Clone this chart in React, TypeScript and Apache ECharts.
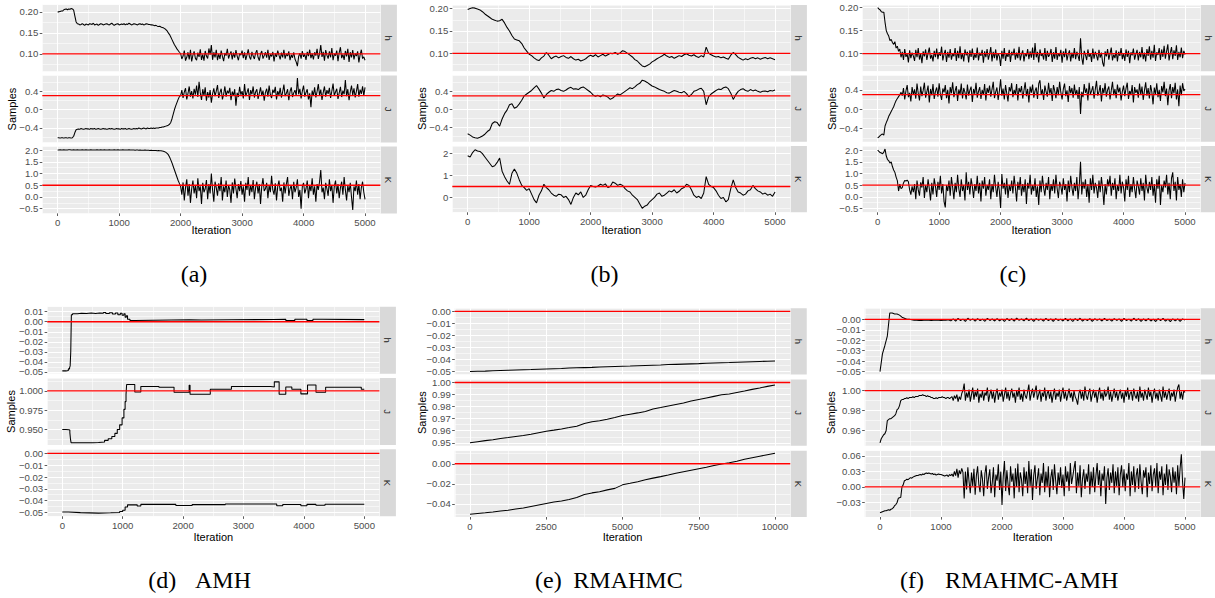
import React, { useEffect, useRef } from "react";
import * as echarts from "echarts";

// ---------------- data ----------------
const RUN_5K = 5000;
const RUN_10K = 10000;

const X_TICKS_5K = [0, 1000, 2000, 3000, 4000, 5000];
const X_TICKS_10K = [0, 2500, 5000, 7500, 10000];

const TICKS_ABC_H = [0.1, 0.15, 0.2];
const TICKS_ABC_J = [-0.4, 0.0, 0.4];
const TICKS_AC_K = [-0.5, 0.0, 0.5, 1.0, 1.5, 2.0];
const TICKS_B_K = [0, 1, 2];
const TICKS_D_H = [-0.05, -0.04, -0.03, -0.02, -0.01, 0.0, 0.01];
const TICKS_D_J = [0.95, 0.975, 1.0];
const TICKS_D_K = [-0.05, -0.04, -0.03, -0.02, -0.01, 0.0];
const TICKS_E_H = [-0.05, -0.04, -0.03, -0.02, -0.01, 0.0];
const TICKS_E_J = [0.95, 0.96, 0.97, 0.98, 0.99, 1.0];
const TICKS_E_K = [-0.04, -0.02, 0.0];
const TICKS_F_H = [-0.05, -0.04, -0.03, -0.02, -0.01, 0.0];
const TICKS_F_J = [0.96, 0.98, 1.0];
const TICKS_F_K = [-0.03, 0.0, 0.03, 0.06];

const TRUTH_ABC = [0.1, 0.3, 0.5];
const TRUTH_DEF = [0.0, 1.0, 0.0];

const FACET_NAMES = ["h", "J", "K"];

// (a) samples, evenly spaced over 5000 iterations
const A_H = [
  0.2, 0.2, 0.201, 0.202, 0.202,
  0.205, 0.206, 0.207, 0.205, 0.207, 0.206, 0.208, 0.207,
  0.204, 0.19, 0.176, 0.172,
  0.171, 0.169, 0.17, 0.172, 0.17, 0.168, 0.171, 0.17, 0.169, 0.172,
  0.171, 0.17, 0.173, 0.169, 0.17, 0.171, 0.168, 0.17, 0.172, 0.171,
  0.169, 0.17, 0.171, 0.172, 0.17, 0.169, 0.171, 0.173, 0.17, 0.168,
  0.17, 0.171, 0.172, 0.169, 0.17, 0.171, 0.17, 0.172, 0.169, 0.171,
  0.17, 0.173, 0.171, 0.169, 0.17, 0.172, 0.171, 0.17, 0.169, 0.171,
  0.172, 0.17, 0.171, 0.169, 0.17, 0.172, 0.171, 0.17,
  0.17, 0.169, 0.169, 0.168, 0.167, 0.168, 0.166, 0.165, 0.166, 0.164, 0.163, 0.162,
  0.16, 0.158, 0.155, 0.15, 0.146, 0.14, 0.134, 0.128, 0.122, 0.117, 0.112, 0.108, 0.104,
  0.101, 0.088, 0.095, 0.108, 0.084, 0.092, 0.104, 0.087, 0.11, 0.082,
  0.097, 0.106, 0.09, 0.085, 0.103, 0.093, 0.111, 0.086, 0.099, 0.084,
  0.107, 0.095, 0.089, 0.113, 0.098, 0.121, 0.086, 0.104, 0.092, 0.11,
  0.085, 0.1, 0.088, 0.108, 0.094, 0.083, 0.102, 0.096, 0.112, 0.089,
  0.099, 0.106, 0.087, 0.103, 0.091, 0.109, 0.095, 0.085, 0.101, 0.097,
  0.108, 0.09, 0.104, 0.086, 0.098, 0.111, 0.093, 0.087, 0.105, 0.095,
  0.088, 0.102, 0.109, 0.092, 0.084, 0.1, 0.107, 0.089, 0.096, 0.104,
  0.091, 0.11, 0.086, 0.099, 0.094, 0.105, 0.082, 0.101, 0.093, 0.108,
  0.097, 0.087, 0.103, 0.092, 0.11, 0.089, 0.1, 0.095, 0.106, 0.085,
  0.098, 0.091, 0.104, 0.088, 0.081, 0.071, 0.094, 0.102, 0.089, 0.107,
  0.093, 0.099, 0.086, 0.105, 0.095, 0.11, 0.09, 0.101, 0.087, 0.104,
  0.096, 0.112, 0.088, 0.1, 0.121, 0.093, 0.105, 0.084, 0.109, 0.097,
  0.089, 0.106, 0.092, 0.114, 0.085, 0.1, 0.096, 0.108, 0.083, 0.103,
  0.116, 0.09, 0.099, 0.086, 0.107, 0.094, 0.112, 0.081, 0.104, 0.092,
  0.109, 0.087, 0.101, 0.095, 0.106, 0.08, 0.098, 0.11, 0.089, 0.093,
  0.085,
];
const A_J = [
  -0.61, -0.61, -0.62, -0.61, -0.61, -0.62, -0.61, -0.61, -0.62, -0.61, -0.61, -0.62, -0.61,
  -0.58, -0.5, -0.44, -0.43,
  -0.42, -0.43, -0.41, -0.42, -0.43, -0.42, -0.41, -0.42, -0.42, -0.43,
  -0.41, -0.42, -0.42, -0.41, -0.43, -0.42, -0.41, -0.42, -0.43, -0.42,
  -0.41, -0.42, -0.42, -0.43, -0.42, -0.41, -0.42, -0.41, -0.42, -0.43,
  -0.42, -0.41, -0.42, -0.42, -0.43, -0.41, -0.42, -0.42, -0.41, -0.43,
  -0.42, -0.41, -0.42, -0.43, -0.42, -0.41, -0.42, -0.41, -0.42, -0.4,
  -0.41, -0.42, -0.41, -0.4, -0.41, -0.42, -0.4, -0.41, -0.41, -0.4,
  -0.41, -0.4, -0.41, -0.4,
  -0.4, -0.4, -0.39, -0.39, -0.38, -0.38, -0.37, -0.36, -0.35, -0.34,
  -0.32, -0.28, -0.2, -0.1, 0.0, 0.08, 0.15, 0.22, 0.28,
  0.3, 0.42, 0.25, 0.38, 0.46, 0.22, 0.35, 0.5, 0.28, 0.4,
  0.24, 0.45, 0.32, 0.52, 0.27, 0.6, 0.36, 0.21, 0.44, 0.3,
  0.48, 0.19, 0.38, 0.26, 0.42, 0.15, 0.34, 0.46, 0.29, 0.4,
  0.53, 0.25, 0.37, 0.45, 0.22, 0.33, 0.5, 0.28, 0.41, 0.35,
  0.47, 0.2, 0.39, 0.3, 0.44, 0.08, 0.36, 0.27, 0.49, 0.32,
  0.4, 0.24, 0.55, 0.29, 0.37, 0.46, 0.21, 0.42, 0.33, 0.5,
  0.26, 0.38, 0.44, 0.23, 0.35, 0.48, 0.3, 0.41, 0.19, 0.37,
  0.45, 0.28, 0.52, 0.32, 0.25, 0.43, 0.36, 0.49, 0.22, 0.4,
  0.31, 0.47, 0.26, 0.38, 0.54, 0.29, 0.35, 0.44, 0.2, 0.39,
  0.48, 0.27, 0.36, 0.42, 0.3, 0.68, 0.33, 0.45, 0.24, 0.4,
  0.52, 0.28, 0.37, 0.44, 0.22, 0.35, 0.05, 0.41, 0.3, 0.48,
  0.26, 0.39, 0.55, 0.31, 0.43, 0.21, 0.37, 0.5, 0.28, 0.42,
  0.34, 0.47, 0.25, 0.4, 0.56, 0.3, 0.38, 0.45, 0.23, 0.36,
  0.49, 0.27, 0.41, 0.33, 0.64, 0.29, 0.44, 0.2, 0.38, 0.52,
  0.31, 0.46, 0.26, 0.4, 0.55, 0.28, 0.43, 0.34, 0.5, 0.3,
  0.48,
];
const A_K = [
  2.0, 2.0, 2.01, 2.0, 2.0, 2.01, 2.0, 2.0, 2.0, 2.01,
  2.01, 2.0, 2.0, 2.01, 2.0, 2.0, 2.01, 2.0, 2.0, 2.0,
  2.01, 2.0, 2.0, 2.01, 2.0, 2.0, 2.0, 2.01, 2.0, 2.0,
  2.0, 2.0, 2.01, 2.0, 2.0, 2.01, 2.0, 2.0, 2.01, 2.0,
  2.0, 2.0, 2.01, 2.0, 2.0, 2.0, 2.01, 2.0, 2.0, 2.01,
  2.0, 2.0, 2.0, 2.01, 2.0, 2.0, 2.0, 2.0, 2.01, 2.0,
  2.0, 2.0, 2.0, 1.99, 2.0, 2.0, 1.99, 2.0, 1.99, 1.99,
  1.99, 2.0, 1.99, 1.99, 1.99, 1.98, 1.99, 1.98, 1.98, 1.98,
  1.98, 1.97, 1.98, 1.97, 1.97,
  1.96, 1.95, 1.93, 1.9, 1.86, 1.8, 1.7, 1.58, 1.45, 1.3, 1.15, 1.0, 0.85, 0.7, 0.58,
  0.45, 0.1, 0.62, -0.15, 0.4, 0.75, 0.05, 0.55, -0.25, 0.35,
  0.7, 0.15, 0.5, -0.05, 0.8, 0.25, 0.45, -0.3, 0.6, 0.2,
  0.35, 0.72, -0.1, 0.55, 0.15, 1.0, 0.3, -0.2, 0.65, 0.4,
  0.05, 0.58, 0.25, 0.85, -0.15, 0.45, 0.2, 0.7, 0.0, 0.5,
  0.3, -0.25, 0.62, 0.15, 0.78, 0.35, -0.05, 0.55, 0.25, 0.68,
  0.1, 0.45, -0.2, 0.6, 0.3, 0.85, 0.05, 0.5, 0.2, 0.72,
  -0.1, 0.4, 0.65, 0.15, 0.55, -0.3, 0.45, 0.8, 0.25, 0.35,
  0.6, -0.05, 0.5, 0.2, 0.9, 0.3, 0.1, 0.58, -0.15, 0.45,
  0.7, 0.25, 0.4, -0.2, 0.62, 0.15, 0.55, 0.85, 0.05, 0.35,
  0.5, -0.1, 0.65, 0.2, 0.4, 0.75, 0.0, 0.3, -0.5, 0.45,
  0.6, 0.15, 0.35, 0.7, -0.05, 0.5, 0.25, 0.8, 0.1, 0.45,
  -0.2, 0.55, 0.3, 0.65, 1.15, 0.2, 0.4, -0.1, 0.6, 0.35,
  0.05, 0.75, 0.25, 0.5, -0.25, 0.45, 0.7, 0.15, 0.55, -0.05,
  0.4, 0.65, 0.1, 0.85, 0.3, -0.15, 0.5, 0.2, 0.6, 0.0,
  -0.55, 0.45, 0.25, 0.7, 0.1, 0.55, -0.1, 0.4, 0.65, 0.2,
  -0.1,
];

// (b)
const B_H = [
  0.198, 0.2, 0.202, 0.201, 0.199, 0.197, 0.193, 0.188, 0.184, 0.18,
  0.176, 0.174, 0.172, 0.173, 0.176, 0.168, 0.158, 0.15, 0.14, 0.132,
  0.13, 0.128, 0.122, 0.112, 0.105, 0.098, 0.095, 0.09, 0.086, 0.084,
  0.09, 0.094, 0.102, 0.096, 0.088, 0.092, 0.094, 0.09, 0.093, 0.095,
  0.091, 0.089, 0.093, 0.088, 0.085, 0.087, 0.083, 0.085, 0.088, 0.093,
  0.096, 0.093, 0.097, 0.092, 0.095, 0.098, 0.094, 0.097, 0.1, 0.099,
  0.102, 0.098, 0.101, 0.106, 0.104, 0.1, 0.096, 0.092, 0.086, 0.083,
  0.077, 0.072, 0.07, 0.073, 0.076, 0.081, 0.084, 0.088, 0.091, 0.094,
  0.098, 0.094, 0.091, 0.093, 0.089, 0.092, 0.095, 0.093, 0.097, 0.099,
  0.096, 0.094, 0.097, 0.093, 0.091, 0.095, 0.092, 0.114, 0.1, 0.097,
  0.094, 0.092, 0.093, 0.09, 0.092, 0.089, 0.087, 0.096, 0.102, 0.097,
  0.091, 0.088, 0.085, 0.088, 0.086, 0.089, 0.091, 0.088, 0.09, 0.087,
  0.089, 0.091, 0.088, 0.09, 0.088, 0.086,
];
const B_J = [
  -0.55, -0.58, -0.62, -0.64, -0.65, -0.63, -0.6, -0.56, -0.5, -0.46,
  -0.32, -0.28, -0.3, -0.38, -0.22, -0.1, -0.02, 0.1, 0.12, 0.02,
  0.05, 0.12, 0.2, 0.3, 0.34, 0.38, 0.42, 0.48, 0.53, 0.45,
  0.36, 0.25, 0.33, 0.38, 0.42, 0.4, 0.44, 0.45, 0.42, 0.4,
  0.43, 0.47, 0.49, 0.45, 0.46, 0.44, 0.48, 0.5, 0.46, 0.42,
  0.38, 0.32, 0.29, 0.31, 0.28, 0.32, 0.3, 0.27, 0.22, 0.25,
  0.3, 0.34, 0.32, 0.36, 0.4, 0.44, 0.48, 0.46, 0.5, 0.55,
  0.58, 0.65, 0.63, 0.6, 0.56, 0.52, 0.5, 0.47, 0.44, 0.42,
  0.4, 0.37, 0.36, 0.39, 0.42, 0.4, 0.38, 0.37, 0.4, 0.35,
  0.28, 0.33, 0.4, 0.42, 0.45, 0.47, 0.4, 0.1, 0.28, 0.34,
  0.38, 0.42, 0.45, 0.44, 0.48, 0.5, 0.46, 0.36, 0.22, 0.32,
  0.4, 0.44, 0.46, 0.42, 0.4, 0.44, 0.41, 0.43, 0.4, 0.38,
  0.4, 0.41, 0.39, 0.42, 0.41, 0.43,
];
const B_K = [
  1.9, 1.85, 2.05, 2.18, 2.12, 2.1, 2.0, 1.85, 1.7, 1.55,
  1.4, 1.45, 1.6, 1.8, 1.2, 0.95, 0.75, 0.6, 1.1, 1.3,
  1.1, 0.8, 0.55, 0.45, 0.32, 0.4, 0.15, -0.1, -0.25, 0.1,
  0.3, 0.6, 0.45, 0.35, 0.2, 0.1, 0.05, 0.15, 0.12, 0.0,
  0.05, -0.1, -0.32, 0.0, 0.2, 0.12, 0.25, 0.0, 0.1, 0.35,
  0.55, 0.5, 0.48, 0.52, 0.6, 0.55, 0.62, 0.45, 0.5, 0.7,
  0.65, 0.55, 0.6, 0.55, 0.4, 0.3, 0.25, 0.1, 0.0, -0.1,
  -0.3, -0.5, -0.4, -0.35, -0.2, -0.1, 0.0, 0.15, 0.2, 0.05,
  0.1, 0.2, 0.3, 0.25, 0.35, 0.2, 0.28, 0.4, 0.45, 0.6,
  0.55, 0.35, 0.1, 0.0, 0.05, -0.05, 0.2, 0.95, 0.6, 0.5,
  0.45, 0.3, 0.1, -0.05, 0.0, -0.2, -0.1, 0.4, 0.8, 0.45,
  0.25, 0.2, 0.1, 0.15, 0.3, 0.35, 0.55, 0.4, 0.3, 0.25,
  0.15, 0.2, 0.1, 0.15, 0.05, 0.25,
];

// (c)
const C_H = [
  0.2, 0.197, 0.195, 0.191, 0.19, 0.19, 0.168, 0.15, 0.143, 0.138,
  0.128, 0.131, 0.124, 0.12, 0.126, 0.112, 0.116, 0.105, 0.11, 0.092,
  0.104, 0.086, 0.11, 0.093, 0.099, 0.081, 0.107, 0.09, 0.102, 0.095,
  0.084, 0.108, 0.092, 0.112, 0.087, 0.1, 0.079, 0.105, 0.094, 0.109,
  0.086, 0.101, 0.113, 0.089, 0.097, 0.083, 0.106, 0.092, 0.111, 0.088,
  0.103, 0.095, 0.115, 0.085, 0.099, 0.108, 0.082, 0.104, 0.091, 0.11,
  0.087, 0.1, 0.094, 0.112, 0.084, 0.106, 0.09, 0.116, 0.088, 0.101,
  0.083, 0.109, 0.096, 0.104, 0.081, 0.107, 0.093, 0.111, 0.086, 0.099,
  0.091, 0.113, 0.085, 0.102, 0.095, 0.108, 0.08, 0.105, 0.092, 0.11,
  0.087, 0.099, 0.114, 0.083, 0.104, 0.09, 0.109, 0.085, 0.101, 0.094,
  0.073, 0.106, 0.089, 0.112, 0.084, 0.1, 0.093, 0.108, 0.082, 0.104,
  0.096, 0.111, 0.087, 0.102, 0.09, 0.115, 0.085, 0.099, 0.107, 0.083,
  0.101, 0.094, 0.11, 0.088, 0.105, 0.091, 0.113, 0.086, 0.123, 0.092,
  0.104, 0.081, 0.109, 0.095, 0.1, 0.087, 0.112, 0.084, 0.106, 0.093,
  0.098, 0.11, 0.082, 0.103, 0.089, 0.114, 0.086, 0.101, 0.094, 0.108,
  0.08, 0.105, 0.092, 0.111, 0.085, 0.099, 0.107, 0.083, 0.102, 0.09,
  0.112, 0.088, 0.104, 0.095, 0.084, 0.133, 0.091, 0.076, 0.106, 0.097,
  0.086, 0.109, 0.093, 0.101, 0.082, 0.111, 0.089, 0.104, 0.096, 0.085,
  0.108, 0.091, 0.102, 0.08, 0.072, 0.105, 0.094, 0.11, 0.087, 0.1,
  0.113, 0.085, 0.098, 0.09, 0.107, 0.083, 0.104, 0.095, 0.112, 0.088,
  0.101, 0.084, 0.109, 0.093, 0.106, 0.079, 0.103, 0.096, 0.111, 0.087,
  0.099, 0.108, 0.085, 0.104, 0.092, 0.114, 0.088, 0.102, 0.083, 0.11,
  0.095, 0.116, 0.087, 0.106, 0.091, 0.119, 0.084, 0.103, 0.097, 0.112,
  0.086, 0.109, 0.093, 0.117, 0.089, 0.105, 0.12, 0.085, 0.101, 0.114,
  0.088, 0.107, 0.095, 0.118, 0.086, 0.104, 0.092, 0.113, 0.09, 0.106,
  0.098,
];
const C_J = [
  -0.6, -0.58, -0.55, -0.53, -0.52, -0.54, -0.35, -0.28, -0.22, -0.15,
  -0.1, -0.05, 0.0, 0.05, 0.12, 0.18, 0.22, 0.26, 0.3, 0.35,
  0.28, 0.44, 0.2, 0.38, 0.5, 0.25, 0.34, 0.16, 0.46, 0.3,
  0.41, 0.22, 0.53, 0.33, 0.18, 0.47, 0.27, 0.39, 0.55, 0.24,
  0.36, 0.49, 0.14, 0.42, 0.29, 0.52, 0.21, 0.37, 0.45, 0.26,
  0.54, 0.31, 0.19, 0.43, 0.35, 0.5, 0.23, 0.4, 0.12, 0.46,
  0.33, 0.56, 0.25, 0.38, 0.48, 0.17, 0.41, 0.3, 0.53, 0.22,
  0.44, 0.35, 0.2, 0.51, 0.28, 0.39, 0.47, 0.15, 0.42, 0.32,
  0.55, 0.24, 0.37, 0.46, 0.21, 0.4, 0.3, 0.52, 0.18, 0.44,
  0.34, 0.49, 0.26, 0.41, 0.57, 0.23, 0.36, 0.45, 0.19, 0.38,
  0.62, 0.28, 0.43, 0.2, 0.5, 0.33, 0.16, 0.46, 0.37, 0.54,
  0.25, 0.4, 0.31, 0.52, 0.18, 0.44, 0.35, 0.48, 0.22, 0.39,
  0.56, 0.27, 0.42, 0.14, 0.47, 0.34, 0.51, 0.24, 0.38, 0.45,
  0.21, 0.53, 0.6, 0.3, 0.41, 0.19, 0.49, 0.36, 0.26, 0.55,
  0.32, 0.44, 0.17, 0.5, 0.38, 0.23, 0.46, 0.29, 0.57, 0.35,
  0.2, 0.42, 0.53, 0.27, 0.39, 0.15, 0.48, 0.33, 0.44, 0.24,
  0.51, 0.3, 0.4, 0.21, 0.46, -0.1, 0.36, 0.25, 0.52, 0.34,
  0.43, 0.18, 0.55, 0.31, 0.38, 0.48, 0.22, 0.41, 0.59, 0.28,
  0.36, 0.5, 0.16, 0.44, 0.33, 0.54, 0.26, 0.4, 0.47, 0.2,
  0.39, 0.57, 0.29, 0.42, 0.23, 0.51, 0.35, 0.45, 0.18, 0.37,
  0.49, 0.27, 0.43, 0.55, 0.21, 0.38, 0.31, 0.5, 0.14, 0.46,
  0.34, 0.41, 0.24, 0.53, 0.3, 0.47, 0.19, 0.39, 0.56, 0.28,
  0.44, 0.22, 0.5, 0.36, 0.1, 0.45, 0.31, 0.54, 0.25, 0.4,
  0.17, 0.48, 0.35, 0.57, 0.27, 0.43, 0.08, 0.39, 0.52, 0.23,
  0.46, 0.33, 0.55, 0.2, 0.41, 0.06, 0.49, 0.29, 0.54, 0.38,
  0.42,
];
const C_K = [
  2.0, 1.95, 1.9, 1.88, 1.85, 1.92, 2.05, 1.75, 1.6, 1.55,
  1.45, 1.5, 1.3, 1.15, 1.05, 0.85, 0.7, 0.25, 0.55, 0.35,
  0.4, 0.6, 0.7, 0.68, 0.72, 0.65, 0.3, 0.1, 0.45, 0.2,
  0.55, -0.1, 0.7, 0.3, 0.05, 0.62, 0.4, 0.85, -0.05, 0.5,
  0.2, 0.75, 0.35, -0.15, 0.6, 0.1, 0.8, 0.45, 0.0, 0.65,
  0.3, 0.9, 0.15, 0.55, -0.2, -0.45, 0.5, 0.25, 0.7, 0.05,
  0.85, 0.4, -0.1, 0.6, 0.2, 0.95, 0.35, 0.0, 0.75, 0.25,
  0.5, -0.15, 1.05, 0.3, 0.65, 0.1, 0.8, 0.45, -0.05, 0.55,
  0.25, 0.9, 0.15, 0.6, -0.2, 0.7, 0.35, 0.85, 0.05, 0.5,
  0.3, 0.75, -0.1, 0.55, 0.2, 0.95, 0.4, 0.0, 0.65, 0.25,
  -0.47, 0.98, 0.35, 0.6, 0.1, 0.8, -0.05, 0.5, 0.25, 0.7,
  0.15, 0.9, 0.4, -0.2, 0.65, 0.3, 0.85, 0.05, 0.55, 0.2,
  0.75, -0.3, 0.6, 0.35, 0.95, 0.1, 0.5, 0.25, 0.8, 0.0,
  0.45, -0.35, 0.7, 0.2, 0.9, 0.4, 0.05, 0.6, 0.3, 0.85,
  -0.1, 0.55, 0.25, 0.75, 0.15, 0.95, 0.35, -0.05, 0.65, 0.45,
  0.1, 0.8, 0.3, 0.55, -0.2, 0.7, 0.2, 0.9, 0.4, 0.05,
  0.6, 0.25, 0.85, -0.1, 0.5, 1.5, 0.1, 0.65, 0.35, 0.75,
  0.0, 0.55, -0.25, 0.8, 0.3, 0.95, 0.15, 0.6, 0.4, -0.05,
  0.7, 0.2, 0.85, 0.35, -0.35, 0.55, 0.1, 0.75, 0.45, 0.9,
  0.05, 0.6, 0.3, 0.8, -0.1, 0.5, 0.25, 0.95, 0.15, 0.65,
  0.4, -0.2, 0.75, 0.3, 0.9, 0.0, 0.55, 0.2, 0.85, 0.35,
  -0.05, 0.7, 0.45, 0.1, 0.8, 0.25, 0.6, -0.15, 0.95, 0.4,
  0.15, 0.65, 0.3, 0.85, 0.05, 0.55, -0.25, 0.75, 0.35, 0.9,
  -0.35, 0.5, 0.2, 0.7, 0.4, 0.95, 0.1, 0.6, -0.1, 0.8,
  1.05, 0.25, 0.65, -0.15, 0.85, 0.3, 0.55, 0.0, 0.75, 0.2,
  0.6,
];

// (d) AMH: [iteration, value] pairs, value held until the next pair
const D_H = [
  [0, -0.049], [60, -0.0485], [100, -0.047], [120, -0.046], [130, -0.044], [140, -0.03],
  [150, 0.007], [170, 0.008], [250, 0.0085], [320, 0.0082], [400, 0.0087], [480, 0.0083],
  [550, 0.0088], [620, 0.0084], [680, 0.0092], [720, 0.0082], [780, 0.009], [830, 0.0078],
  [880, 0.0088], [920, 0.007], [960, 0.0085], [990, 0.0065], [1020, 0.008], [1040, 0.0045],
  [1060, 0.006], [1080, 0.0025], [1120, 0.0012], [1200, 0.0018], [1800, 0.002], [2100, 0.0018],
  [2300, 0.002], [2800, 0.0022], [3500, 0.0025], [3700, 0.0012], [3850, 0.0025], [4050, 0.0013],
  [4150, 0.0025], [4300, 0.0021], [5000, 0.0021],
];
const D_J = [
  [0, 0.95], [60, 0.9498], [110, 0.949], [125, 0.946], [135, 0.938], [145, 0.933],
  [300, 0.9328], [500, 0.9332], [600, 0.934], [700, 0.936], [760, 0.938], [820, 0.941],
  [870, 0.945], [910, 0.95], [950, 0.956], [990, 0.965], [1020, 0.976], [1040, 0.986],
  [1055, 0.995], [1065, 1.008], [1200, 0.9985], [1300, 1.0055], [1600, 1.0045], [1850, 0.998],
  [2100, 1.007], [2115, 0.9955], [2450, 1.002], [2800, 1.0055], [3450, 1.005], [3510, 1.0115],
  [3590, 0.9955], [3700, 1.005], [3800, 1.002], [3950, 0.996], [4060, 1.0075], [4200, 0.998],
  [4360, 1.0045], [4950, 1.002], [5000, 1.002],
];
const D_K = [
  [0, -0.0497], [100, -0.0502], [300, -0.0506], [600, -0.0503], [800, -0.05], [950, -0.0492],
  [1000, -0.0482], [1040, -0.0455], [1080, -0.0436], [1240, -0.0446], [1300, -0.0432],
  [1880, -0.0442], [2150, -0.0434], [2700, -0.0428], [3550, -0.0443], [3650, -0.0433],
  [3950, -0.0443], [4050, -0.0432], [4200, -0.044], [4350, -0.043], [5000, -0.0432],
];

// (e) RMAHMC, evenly spaced over 10000 iterations
const E_H = [
  -0.05, -0.0498, -0.0496, -0.0493, -0.0491, -0.0489, -0.0487, -0.0485, -0.0483, -0.048,
  -0.0478, -0.0476, -0.0474, -0.0471, -0.0469, -0.0467, -0.0465, -0.0462, -0.046, -0.0458,
  -0.0456, -0.0454, -0.0451, -0.0449, -0.0447, -0.0445, -0.0442, -0.044, -0.0438, -0.0436,
  -0.0434, -0.0431, -0.0429, -0.0427, -0.0425, -0.0422, -0.042, -0.0418, -0.0416, -0.0414,
  -0.0412,
];
const E_J = [
  0.95, 0.9509, 0.9518, 0.9526, 0.9535, 0.9543, 0.9552, 0.956, 0.957, 0.9584,
  0.9596, 0.9605, 0.9615, 0.9626, 0.9638, 0.966, 0.9675, 0.9683, 0.9695, 0.971,
  0.9726, 0.9737, 0.9748, 0.976, 0.978, 0.9792, 0.9805, 0.9818, 0.983, 0.9846,
  0.9859, 0.9872, 0.9885, 0.9898, 0.9905, 0.9918, 0.993, 0.9943, 0.9955, 0.9968,
  0.998,
];
const E_K = [
  -0.0503, -0.0495, -0.0488, -0.048, -0.047, -0.0462, -0.045, -0.044, -0.0425, -0.041,
  -0.0395, -0.038, -0.037, -0.0355, -0.0335, -0.0305, -0.029, -0.0278, -0.026, -0.0245,
  -0.021, -0.0195, -0.0178, -0.016, -0.0143, -0.0128, -0.0112, -0.0095, -0.008, -0.0065,
  -0.005, -0.0035, -0.0018, -0.0002, 0.001, 0.0025, 0.0045, 0.006, 0.0075, 0.009,
  0.0105,
];

// (f) RMAHMC-AMH, evenly spaced over 5000 iterations
const F_H = [
  -0.05, -0.033, -0.025, -0.016, 0.006, 0.006, 0.005, 0.005, 0.004, 0.002,
  0.001, 0.0, 0.0, -0.0005, -0.001, -0.001, -0.0012, -0.0012, -0.001, -0.001,
  -0.001, -0.0012, -0.001, -0.0008, -0.001, -0.0011, -0.0009, -0.001, -0.0005, -0.0015,
  0.0003, -0.0018, 0.0008, -0.0012, 0.0002, -0.002, 0.001, -0.001, 0.0004, -0.0017,
  0.0006, -0.0013, 0.0001, -0.0019, 0.0009, -0.0011, 0.0003, -0.0016, 0.0007, -0.0014,
  0.0002, -0.0021, 0.0008, -0.0012, 0.0005, -0.0018, 0.0011, -0.0009, 0.0003, -0.0015,
  0.0012, -0.0013, 0.0004, -0.002, 0.0006, -0.001, 0.0002, -0.0017, 0.0009, -0.0012,
  0.0003, -0.0019, 0.0007, -0.0011, 0.0001, -0.0016, 0.0008, -0.0014, 0.0004, -0.0021,
  0.0006, -0.0012, 0.001, -0.0017, 0.0002, -0.0013, 0.0007, -0.0019, 0.0005, -0.001,
  0.0003, -0.0016, 0.0009, -0.0012, 0.0001, -0.0018, 0.0006, -0.0011, 0.0004, -0.002,
  0.0008, -0.0013, 0.0002, -0.0017, 0.001, -0.0012, 0.0005, -0.0019, 0.0003, -0.0014,
  0.0007, -0.0016, 0.0001, -0.0021, 0.0006, -0.0012, 0.0009, -0.0018, 0.0002, -0.0023,
  0.0005, -0.0015, 0.0003, -0.0019, 0.0004, -0.0008,
];
const F_J = [
  0.948, 0.952, 0.954, 0.956, 0.957, 0.96, 0.97, 0.971, 0.972, 0.972,
  0.973, 0.974, 0.975, 0.977, 0.981, 0.982, 0.985, 0.99, 0.991, 0.991,
  0.992, 0.992, 0.993, 0.992, 0.993, 0.993, 0.993, 0.994, 0.993, 0.994,
  0.994, 0.994, 0.995, 0.995, 0.995, 0.996, 0.995, 0.995, 0.994, 0.995,
  0.994, 0.994, 0.993, 0.993, 0.992, 0.992, 0.993, 0.992, 0.993, 0.993,
  0.993, 0.994, 0.993, 0.993, 0.992, 0.993, 0.993, 0.992, 0.993, 0.994,
  0.99, 0.995, 0.992, 0.996, 0.989, 0.994, 0.991, 0.997, 1.0, 1.007,
  0.99, 0.998, 0.993, 1.001, 0.989, 0.996, 1.003, 0.991, 0.999, 0.994,
  1.002, 0.988, 0.997, 0.993, 1.0, 0.99, 0.998, 0.995, 1.003, 0.989,
  0.996, 1.001, 0.992, 0.999, 0.988, 0.997, 1.002, 0.991, 0.998, 0.994,
  1.001, 0.989, 0.996, 1.003, 0.992, 0.999, 0.99, 0.997, 1.002, 0.993,
  0.998, 0.988, 1.0, 0.994, 1.003, 0.991, 0.997, 0.989, 1.001, 0.995,
  0.992, 0.999, 1.006, 0.99, 0.997, 1.002, 0.993, 0.999, 1.005, 0.991,
  0.996, 1.001, 0.989, 0.998, 0.994, 1.003, 0.99, 0.997, 1.0, 0.992,
  0.999, 0.988, 0.996, 1.002, 0.991, 0.998, 0.994, 1.001, 0.989, 0.997,
  1.003, 0.992, 0.999, 0.99, 0.996, 1.002, 0.993, 0.998, 0.989, 1.0,
  0.994, 0.991, 0.986, 0.997, 1.001, 0.992, 0.999, 0.99, 1.004, 0.995,
  0.991, 0.998, 1.002, 0.989, 0.996, 1.001, 0.993, 0.999, 0.988, 0.997,
  1.003, 0.992, 0.998, 0.99, 1.001, 0.994, 0.997, 1.004, 0.991, 0.999,
  0.989, 0.996, 1.002, 0.993, 0.999, 0.99, 0.997, 1.001, 0.992, 0.998,
  0.988, 1.0, 0.994, 1.003, 0.991, 0.997, 0.999, 0.99, 1.002, 0.995,
  0.992, 0.999, 0.989, 1.004, 0.993, 0.998, 0.99, 1.001, 0.996, 0.991,
  1.003, 0.994, 0.999, 0.988, 0.997, 1.002, 0.992, 0.998, 0.99, 1.001,
  0.995, 0.989, 1.004, 0.993, 0.999, 0.991, 0.997, 1.002, 0.99, 0.998,
  0.994, 1.001, 0.989, 0.997, 1.003, 1.006, 0.992, 0.999, 0.991, 1.0,
  0.998,
];
const F_K = [
  -0.05, -0.049, -0.048, -0.047, -0.046, -0.046, -0.045, -0.044, -0.045, -0.043,
  -0.042, -0.04, -0.036, -0.034, -0.03, -0.022, -0.021, -0.02, 0.0, 0.004,
  0.012, 0.013, 0.015, 0.014, 0.016, 0.018, 0.017, 0.019, 0.02, 0.021,
  0.022, 0.022, 0.023, 0.024, 0.023, 0.025, 0.024, 0.026, 0.027, 0.026,
  0.027, 0.026, 0.025, 0.026, 0.024, 0.025, 0.023, 0.024, 0.025, 0.024,
  0.024, 0.023, 0.022, 0.021, 0.022, 0.023, 0.02, 0.024, 0.022, 0.025,
  0.02, 0.03, 0.022, 0.035, 0.018, 0.032, 0.025, 0.036, 0.028, -0.022,
  0.03, -0.005, 0.038, 0.01, -0.012, 0.028, 0.002, 0.035, -0.015, 0.022,
  0.04, 0.005, -0.01, 0.032, 0.015, -0.018, 0.026, 0.042, -0.004, 0.018,
  0.034, -0.012, 0.008, 0.038, -0.02, 0.024, 0.012, 0.044, -0.006, 0.03,
  -0.035, 0.02, 0.05, -0.008, 0.032, 0.004, -0.016, 0.04, 0.01, 0.026,
  -0.022, 0.036, 0.0, 0.045, -0.01, 0.028, 0.014, -0.018, 0.038, 0.006,
  0.03, -0.012, 0.05, 0.002, 0.034, -0.025, 0.022, 0.042, -0.004, 0.016,
  0.036, -0.016, 0.026, 0.008, 0.046, -0.01, 0.03, 0.0, 0.04, -0.02,
  0.018, 0.034, -0.006, 0.044, 0.012, -0.014, 0.028, 0.004, 0.038, -0.002,
  0.024, -0.018, 0.04, 0.01, 0.03, -0.008, 0.046, 0.006, 0.02, 0.036,
  0.05, -0.012, 0.028, 0.002, 0.042, -0.02, 0.016, 0.034, -0.004, 0.026,
  0.01, 0.044, -0.014, 0.03, 0.0, 0.038, -0.01, 0.022, 0.046, 0.004,
  0.032, -0.018, 0.026, 0.012, 0.04, -0.033, 0.018, 0.036, -0.006, 0.028,
  0.008, 0.044, -0.012, 0.03, 0.002, 0.038, -0.016, 0.024, 0.042, 0.0,
  0.034, -0.008, 0.026, 0.014, 0.046, -0.018, 0.03, 0.004, 0.04, -0.01,
  0.022, 0.036, -0.004, 0.044, 0.01, -0.014, 0.032, 0.018, 0.038, -0.02,
  0.028, 0.006, 0.042, -0.008, 0.024, 0.036, 0.0, 0.046, -0.012, 0.03,
  0.014, 0.04, -0.016, 0.026, 0.004, 0.044, -0.006, 0.034, 0.02, -0.01,
  0.038, 0.008, 0.03, -0.014, 0.042, 0.002, 0.036, 0.063, 0.01, -0.023,
  0.018,
];

// ---------------- layout & style ----------------
const SANS = '"Liberation Sans", Arial, Helvetica, sans-serif';
const SERIF = '"Liberation Serif", "DejaVu Serif", serif';
const STRIP_W = 16.5;
const TRACE_W = 1.05;

function evenly(values: number[], total: number): number[][] {
  const n = values.length;
  return values.map((v, i) => [Math.round((i * total) / (n - 1)), v]);
}

type Facet = { data: number[][]; yMin: number; yMax: number; ticks: number[]; dec: number; truth: number };
type Panel = {
  left: number; right: number; top: number; h: number; gap: number;
  run: number; xTicks: number[]; step?: boolean;
  samplesX: number; iterY: number; facets: Facet[];
};

const PANELS: Panel[] = [
  {
    left: 42.3, right: 380.4, top: 4.7, h: 66.9, gap: 4, run: RUN_5K, xTicks: X_TICKS_5K,
    samplesX: 12, iterY: 230,
    facets: [
      { data: evenly(A_H, RUN_5K), yMin: 0.058, yMax: 0.217, ticks: TICKS_ABC_H, dec: 2, truth: TRUTH_ABC[0] },
      { data: evenly(A_J, RUN_5K), yMin: -0.715, yMax: 0.735, ticks: TICKS_ABC_J, dec: 1, truth: TRUTH_ABC[1] },
      { data: evenly(A_K, RUN_5K), yMin: -0.7, yMax: 2.15, ticks: TICKS_AC_K, dec: 1, truth: TRUTH_ABC[2] },
    ],
  },
  {
    left: 452.3, right: 790.4, top: 5, h: 66.3, gap: 4.2, run: RUN_5K, xTicks: X_TICKS_5K,
    samplesX: 421.7, iterY: 230,
    facets: [
      { data: evenly(B_H, RUN_5K), yMin: 0.06, yMax: 0.208, ticks: TICKS_ABC_H, dec: 2, truth: TRUTH_ABC[0] },
      { data: evenly(B_J, RUN_5K), yMin: -0.73, yMax: 0.755, ticks: TICKS_ABC_J, dec: 1, truth: TRUTH_ABC[1] },
      { data: evenly(B_K, RUN_5K), yMin: -0.68, yMax: 2.35, ticks: TICKS_B_K, dec: 0, truth: TRUTH_ABC[2] },
    ],
  },
  {
    left: 862.3, right: 1200.4, top: 5, h: 66.3, gap: 4.2, run: RUN_5K, xTicks: X_TICKS_5K,
    samplesX: 831.7, iterY: 230,
    facets: [
      { data: evenly(C_H, RUN_5K), yMin: 0.0615, yMax: 0.2056, ticks: TICKS_ABC_H, dec: 2, truth: TRUTH_ABC[0] },
      { data: evenly(C_J, RUN_5K), yMin: -0.68, yMax: 0.7, ticks: TICKS_ABC_J, dec: 1, truth: TRUTH_ABC[1] },
      { data: evenly(C_K, RUN_5K), yMin: -0.66, yMax: 2.18, ticks: TICKS_AC_K, dec: 1, truth: TRUTH_ABC[2] },
    ],
  },
  {
    left: 47.2, right: 379.4, top: 306.7, h: 67, gap: 4.3, run: RUN_5K, xTicks: X_TICKS_5K, step: true,
    samplesX: 11, iterY: 537,
    facets: [
      { data: D_H, yMin: -0.0518, yMax: 0.015, ticks: TICKS_D_H, dec: 2, truth: TRUTH_DEF[0] },
      { data: D_J, yMin: 0.93, yMax: 1.0165, ticks: TICKS_D_J, dec: 3, truth: TRUTH_DEF[1] },
      { data: D_K, yMin: -0.0533, yMax: 0.0035, ticks: TICKS_D_K, dec: 2, truth: TRUTH_DEF[2] },
    ],
  },
  {
    left: 454.75, right: 790.25, top: 308.3, h: 66.3, gap: 4.9, run: RUN_10K, xTicks: X_TICKS_10K,
    samplesX: 421.7, iterY: 537,
    facets: [
      { data: evenly(E_H, RUN_10K), yMin: -0.0525, yMax: 0.0025, ticks: TICKS_E_H, dec: 2, truth: TRUTH_DEF[0] },
      { data: evenly(E_J, RUN_10K), yMin: 0.9475, yMax: 1.0025, ticks: TICKS_E_J, dec: 2, truth: TRUTH_DEF[1] },
      { data: evenly(E_K, RUN_10K), yMin: -0.053, yMax: 0.013, ticks: TICKS_E_K, dec: 2, truth: TRUTH_DEF[2] },
    ],
  },
  {
    left: 864.75, right: 1200.25, top: 308.3, h: 66.3, gap: 4.9, run: RUN_5K, xTicks: X_TICKS_5K,
    samplesX: 830.7, iterY: 537,
    facets: [
      { data: evenly(F_H, RUN_5K), yMin: -0.0528, yMax: 0.0105, ticks: TICKS_F_H, dec: 2, truth: TRUTH_DEF[0] },
      { data: evenly(F_J, RUN_5K), yMin: 0.945, yMax: 1.011, ticks: TICKS_F_J, dec: 2, truth: TRUTH_DEF[1] },
      { data: evenly(F_K, RUN_5K), yMin: -0.058, yMax: 0.07, ticks: TICKS_F_K, dec: 2, truth: TRUTH_DEF[2] },
    ],
  },
];

const CAPTIONS = [
  { text: "(a)", x: 180.7, y: 274 },
  { text: "(b)", x: 590.5, y: 274 },
  { text: "(c)", x: 999.5, y: 274 },
  { text: "(d)", x: 148.3, y: 580 },
  { text: "AMH", x: 195, y: 580 },
  { text: "(e)", x: 535, y: 580 },
  { text: "RMAHMC", x: 573.3, y: 580 },
  { text: "(f)", x: 900, y: 580 },
  { text: "RMAHMC-AMH", x: 945, y: 580 },
];

function fmt(v: number, dec: number): string {
  const s = Math.abs(v) < 1e-12 ? (0).toFixed(dec) : v.toFixed(dec);
  return s.replace("-", "\u2212");
}

function onTick(v: number, ticks: number[]): boolean {
  return ticks.some((t) => Math.abs(t - v) < 1e-9 * Math.max(1, Math.abs(t)) + 1e-12);
}

const NO_LINE = { show: false, onZero: false };

function buildOption() {
  const grid: any[] = [];
  const xAxis: any[] = [];
  const yAxis: any[] = [];
  const series: any[] = [];
  const elements: any[] = [];

  PANELS.forEach((p) => {
    const width = p.right - p.left;
    const xMin = -p.run * 0.05;
    const xMax = p.run * 1.05;
    const xStep = p.xTicks[1] - p.xTicks[0];

    p.facets.forEach((f, k) => {
      const top = p.top + k * (p.h + p.gap);
      const gi = grid.length;
      const isBottom = k === 2;
      const yStep = f.ticks[1] - f.ticks[0];
      grid.push({
        left: p.left, top, width, height: p.h, show: true,
        backgroundColor: "#EBEBEB", borderWidth: 0, containLabel: false,
      });

      // minor grid (x)
      xAxis.push({
        type: "value", gridIndex: gi, position: "top", min: xMin, max: xMax,
        minInterval: xStep / 2, maxInterval: xStep / 2,
        splitLine: { show: true, lineStyle: { color: "#FFFFFF", width: 0.55 } },
        axisLine: NO_LINE, axisTick: { show: false }, axisLabel: { show: false },
      });
      const xi = xAxis.length;
      // major grid + labels (x)
      xAxis.push({
        type: "value", gridIndex: gi, position: "bottom", min: xMin, max: xMax,
        minInterval: xStep, maxInterval: xStep,
        splitLine: { show: true, lineStyle: { color: "#FFFFFF", width: 1.1 } },
        axisLine: NO_LINE,
        axisTick: { show: isBottom, length: 2.6, customValues: p.xTicks, lineStyle: { color: "#333333", width: 0.8 } },
        axisLabel: {
          show: isBottom, customValues: p.xTicks, margin: 4, color: "#4D4D4D",
          fontSize: 9.6, fontFamily: SANS,
          formatter: (v: number) => (onTick(v, p.xTicks) ? String(Math.round(v)) : ""),
        },
      });

      // minor grid (y)
      yAxis.push({
        type: "value", gridIndex: gi, position: "right", min: f.yMin, max: f.yMax,
        minInterval: yStep / 2, maxInterval: yStep / 2,
        splitLine: { show: true, lineStyle: { color: "#FFFFFF", width: 0.55 } },
        axisLine: NO_LINE, axisTick: { show: false }, axisLabel: { show: false },
      });
      const yi = yAxis.length;
      yAxis.push({
        type: "value", gridIndex: gi, position: "left", min: f.yMin, max: f.yMax,
        minInterval: yStep, maxInterval: yStep,
        splitLine: { show: true, lineStyle: { color: "#FFFFFF", width: 1.1 } },
        axisLine: NO_LINE,
        axisTick: { show: true, length: 2.6, customValues: f.ticks, lineStyle: { color: "#333333", width: 0.8 } },
        axisLabel: {
          show: true, customValues: f.ticks, margin: 4, color: "#4D4D4D",
          fontSize: 9.6, fontFamily: SANS,
          formatter: (v: number) => (onTick(v, f.ticks) ? fmt(v, f.dec) : ""),
        },
      });

      // sample trace
      series.push({
        type: "line", xAxisIndex: xi, yAxisIndex: yi, data: f.data,
        showSymbol: false, symbol: "none", step: p.step ? "end" : false,
        lineStyle: { color: "#000000", width: TRACE_W }, itemStyle: { color: "#000000" },
        clip: true, silent: true, z: 3,
      });
      // true value (horizontal reference line across the panel)
      series.push({
        type: "line", xAxisIndex: xi, yAxisIndex: yi,
        data: [[xMin, f.truth], [xMax, f.truth]],
        showSymbol: false, symbol: "none",
        lineStyle: { color: "#FF0000", width: 1.3 }, itemStyle: { color: "#FF0000" },
        clip: true, silent: true, z: 4,
      });

      // facet strip on the right
      elements.push({
        type: "rect", shape: { x: p.right, y: top, width: STRIP_W, height: p.h },
        style: { fill: "#D9D9D9" }, silent: true,
      });
      elements.push({
        type: "text", x: p.right + STRIP_W / 2, y: top + p.h / 2, rotation: -Math.PI / 2,
        style: {
          text: FACET_NAMES[k], fill: "#1A1A1A", fontSize: 9.5, fontFamily: SANS,
          textAlign: "center", textVerticalAlign: "middle", align: "center", verticalAlign: "middle",
        },
        silent: true,
      });
    });

    const firstTop = p.top;
    const lastBottom = p.top + 3 * p.h + 2 * p.gap;
    elements.push({
      type: "text", x: p.samplesX, y: (firstTop + lastBottom) / 2, rotation: Math.PI / 2,
      style: {
        text: "Samples", fill: "#000000", fontSize: 11, fontFamily: SANS,
        textAlign: "center", textVerticalAlign: "middle", align: "center", verticalAlign: "middle",
      },
      silent: true,
    });
    elements.push({
      type: "text", x: (p.left + p.right) / 2, y: p.iterY,
      style: {
        text: "Iteration", fill: "#000000", fontSize: 11, fontFamily: SANS,
        textAlign: "center", textVerticalAlign: "middle", align: "center", verticalAlign: "middle",
      },
      silent: true,
    });
  });

  CAPTIONS.forEach((c) => {
    elements.push({
      type: "text", x: c.x, y: c.y,
      style: {
        text: c.text, fill: "#000000", fontSize: 24, fontFamily: SERIF,
        textAlign: "left", textVerticalAlign: "middle", align: "left", verticalAlign: "middle",
      },
      silent: true,
    });
  });

  return {
    animation: false,
    backgroundColor: "#FFFFFF",
    grid, xAxis, yAxis, series,
    graphic: { elements },
  };
}

export default function App() {
  const ref = useRef<HTMLDivElement>(null);
  useEffect(() => {
    if (!ref.current) return;
    const chart = echarts.init(ref.current, undefined, { renderer: "svg" });
    chart.setOption(buildOption() as any);
    return () => {
      chart.dispose();
    };
  }, []);
  return (
    <div
      ref={ref}
      style={{ position: "fixed", left: 0, top: 0, width: 1215, height: 598, background: "#FFFFFF" }}
    />
  );
}
